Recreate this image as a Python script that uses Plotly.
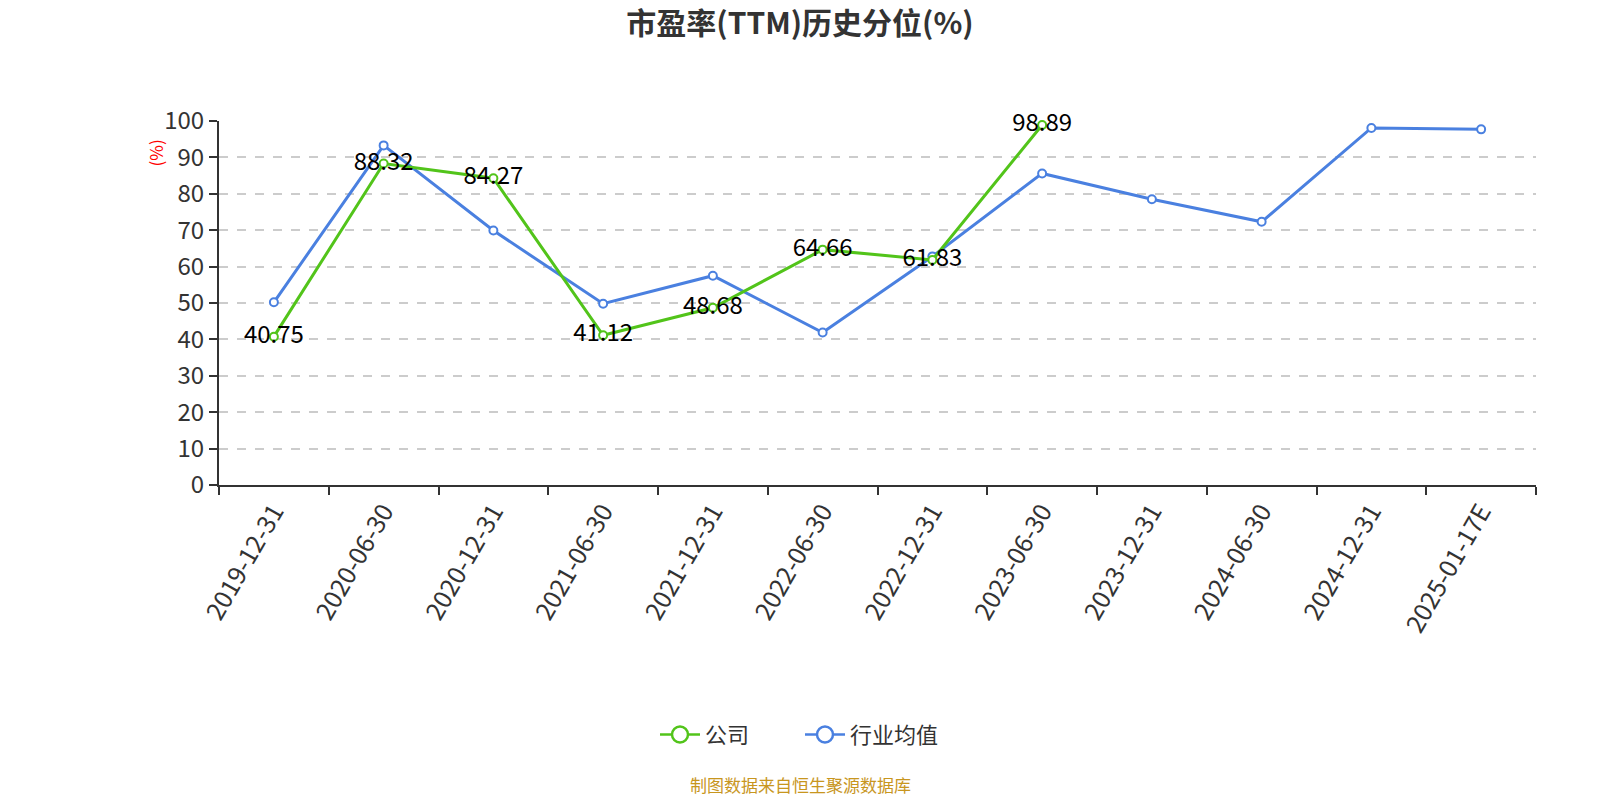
import plotly.graph_objects as go

categories = ["2019-12-31", "2020-06-30", "2020-12-31", "2021-06-30", "2021-12-31",
              "2022-06-30", "2022-12-31", "2023-06-30", "2023-12-31", "2024-06-30",
              "2024-12-31", "2025-01-17E"]
company = [40.75, 88.32, 84.27, 41.12, 48.68, 64.66, 61.83, 98.89, None, None, None, None]
industry = [50.2, 93.3, 69.9, 49.8, 57.5, 41.9, 62.8, 85.6, 78.5, 72.3, 98.1, 97.7]
company_labels = ["" if v is None else f"{v:.2f}" for v in company]

FONT = "Noto Sans CJK SC"
GREEN = "#52C41A"
BLUE = "#4A80E0"

L, R, T, B = 219, 64, 120.5, 315
PH = 800 - T - B
PW = 1600 - L - R
cx = (800 - L) / PW

fig = go.Figure()
fig.add_trace(go.Scatter(
    x=categories, y=industry, name="行业均值", mode="lines+markers",
    line=dict(color=BLUE, width=3),
    marker=dict(symbol="circle", size=8, color="#ffffff", line=dict(color=BLUE, width=2)),
    cliponaxis=False, showlegend=False,
))
fig.add_trace(go.Scatter(
    x=categories, y=company, name="公司", mode="lines+markers+text",
    text=company_labels, textposition="middle center",
    textfont=dict(family=FONT, size=24, color="#000000"),
    line=dict(color=GREEN, width=3),
    marker=dict(symbol="circle", size=8, color="#ffffff", line=dict(color=GREEN, width=2)),
    cliponaxis=False, showlegend=False,
))
# legend entries
for nm, col in [("公司", GREEN), ("行业均值", BLUE)]:
    fig.add_trace(go.Scatter(
        x=[None], y=[None], name=nm, mode="lines+markers",
        line=dict(color=col, width=2.5),
        marker=dict(symbol="circle", size=18, color="#ffffff", line=dict(color=col, width=2.5)),
        showlegend=True,
    ))

fig.update_layout(
    width=1600, height=800,
    margin=dict(l=L, r=R, t=T, b=B, autoexpand=False),
    paper_bgcolor="#ffffff", plot_bgcolor="#ffffff",
    font=dict(family=FONT, color="#333333"),
    title=dict(text="<b>市盈率(TTM)历史分位(%)</b>", x=0.5, xanchor="center",
               y=1 - 23 / 800, yanchor="middle",
               font=dict(family=FONT, size=30, color="#333333")),
    showlegend=True,
    legend=dict(orientation="h", x=cx, xanchor="center", y=(485 - 735) / PH, yanchor="middle",
                font=dict(family=FONT, size=22, color="#333333"),
                itemwidth=40, entrywidth=90, entrywidthmode="pixels"),
    xaxis=dict(type="category", range=[-0.5, 11.5], tickson="boundaries",
               showline=True, linecolor="#333333", linewidth=2,
               ticks="outside", ticklen=8, tickcolor="#333333", tickwidth=2,
               tickangle=-60, tickfont=dict(family=FONT, size=25, color="#333333"),
               showgrid=False, zeroline=False, automargin=False),
    yaxis=dict(range=[0, 100], dtick=10, tick0=0,
               showline=True, linecolor="#333333", linewidth=2,
               ticks="outside", ticklen=8, tickcolor="#333333", tickwidth=2,
               tickfont=dict(family=FONT, size=24, color="#333333"),
               showgrid=True, gridcolor="#cccccc", griddash="dash", gridwidth=1.5,
               zeroline=False, automargin=False),
    annotations=[
        dict(text="(%)", xref="paper", yref="paper", x=(155 - L) / PW, y=(485 - 153) / PH,
             showarrow=False, textangle=-90, font=dict(family=FONT, size=17, color="#ff0000"),
             xanchor="center", yanchor="middle"),
        dict(text="制图数据来自恒生聚源数据库", xref="paper", yref="paper",
             x=cx, y=(485 - 785) / PH, showarrow=False, xanchor="center", yanchor="middle",
             font=dict(family=FONT, size=17, color="#C8961E")),
    ],
)

fig.write_html("out.html")
